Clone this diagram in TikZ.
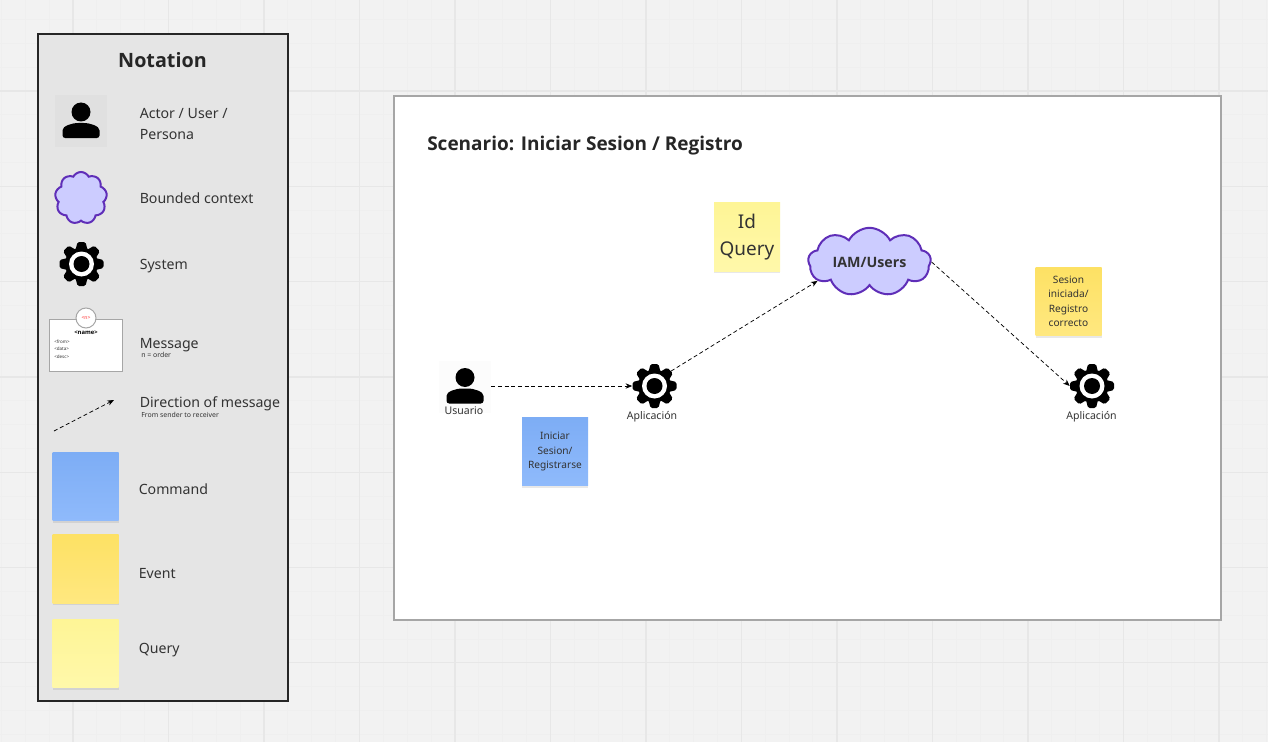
\documentclass[tikz,border=0pt]{standalone}
\usepackage{fontspec}
\setmainfont{Noto Sans}
\newfontfamily\headfont{Open Sans}
\usetikzlibrary{arrows.meta,shapes.symbols,shadows}
\definecolor{canvas}{HTML}{F2F2F2}
\definecolor{gridmajor}{HTML}{E7E7E7}
\definecolor{gridminor}{HTML}{EFEFEF}
\definecolor{panel}{HTML}{E5E5E5}
\definecolor{ink}{HTML}{333333}
\definecolor{purpleline}{HTML}{5F2EB8}
\definecolor{purplefill}{HTML}{CCCCFF}
\definecolor{cmdtop}{HTML}{7DADF5}
\definecolor{cmdbot}{HTML}{8FBAFB}
\definecolor{evttop}{HTML}{FDE164}
\definecolor{evtbot}{HTML}{FFE880}
\definecolor{qrytop}{HTML}{FEF596}
\definecolor{qrybot}{HTML}{FFF8AA}
\tikzset{
	legendtext/.style={anchor=west, inner sep=0pt, text=ink, font=\fontsize{10.6}{15.6}\selectfont, align=left},
	smalltext/.style={anchor=west, inner sep=0pt, text=ink, font=\fontsize{5.2}{6}\selectfont},
	icontext/.style={inner sep=0pt, text=ink, font=\fontsize{7.9}{9}\selectfont},
	sticky/.style={minimum width=49.5pt, minimum height=51.5pt, inner sep=0pt, align=center, text=ink,
		font=\fontsize{7.6}{10.9}\selectfont, drop shadow={opacity=.18, shadow xshift=0pt, shadow yshift=-1.5pt}},
	command/.style={sticky, top color=cmdtop, bottom color=cmdbot},
	event/.style={sticky, top color=evttop, bottom color=evtbot},
	query/.style={sticky, top color=qrytop, bottom color=qrybot},
	context/.style={cloud, cloud puffs=9, cloud puff arc=125, aspect=1.7, draw=purpleline, line width=1.5pt, fill=purplefill, inner sep=0pt, text=ink},
	gearnode/.style={circle, minimum size=33pt, inner sep=0pt},
	personnode/.style={minimum size=39pt, inner sep=0pt},
	flow/.style={-{Stealth[length=5pt,width=4pt]}, dash pattern=on 3pt off 2pt, line width=.55pt},
	pics/gearicon/.style={code={
		\fill[black] (0,0) circle (16.5);
		\foreach \a in {0,45,...,315}
			\fill[black, rotate=\a, rounded corners=1.2pt] (-6,-14) -- (-4,-22) -- (4,-22) -- (6,-14) -- cycle;
		\fill[#1] (0,0) circle (12.5);
		\fill[black] (0,0) circle (8);
	}},
	pics/personicon/.style={code={
		\fill[#1] (-26,-26) rectangle (26,26);
		\fill[black] (0,-9) circle (9.5);
		\fill[black, rounded corners=2pt] (-18.5,17) -- (-18.5,12) .. controls (-18.5,5) and (-9,2) .. (0,2) .. controls (9,2) and (18.5,5) .. (18.5,12) -- (18.5,17) -- cycle;
	}}
}

\begin{document}
\begin{tikzpicture}[x=.75pt, y=-.75pt]
\useasboundingbox (0,0) rectangle (1268,742);
\clip (0,0) rectangle (1268,742);
\fill[canvas] (0,0) rectangle (1268,742);
\foreach \i in {0,...,53}
	\draw[gridminor, line width=.75pt] (1.4+23.87*\i,0) -- (1.4+23.87*\i,742);
\foreach \i in {0,...,30}
	\draw[gridminor, line width=.75pt] (0,19.5+23.83*\i) -- (1268,19.5+23.83*\i);
\foreach \i in {0,...,12}
	\draw[gridmajor, line width=1pt] (73+95.5*\i,0) -- (73+95.5*\i,742);
\foreach \i in {0,...,6}
	\draw[gridmajor, line width=1pt] (0,91+95.3*\i) -- (1268,91+95.3*\i);

\draw[fill=panel, draw=black!85, line width=1.5pt] (37.5,34.5) rectangle (287.5,700.5);
\node[text=black!85, font=\fontsize{14.8}{18}\headfont\bfseries\selectfont] (notation) at (162.5,60.5) {Notation};

\pic at (81,121) {personicon=black!2!panel};
\node[personnode] (actorkey) at (81,121) {};
\node[legendtext] (actorlabel) at (139.5,124) {Actor / User /\\Persona};

\node[context, aspect=1, minimum width=39pt, minimum height=39pt] (contextkey) at (81,198) {};
\node[legendtext] (contextlabel) at (139.5,198.5) {Bounded context};

\pic at (81.5,264) {gearicon=white};
\node[gearnode] (systemkey) at (81.5,264) {};
\node[legendtext] (systemlabel) at (139.5,266.5) {System};

\node[draw=black!35, fill=white, line width=.75pt, minimum width=54.5pt, minimum height=39pt, inner sep=0pt] (messagekey) at (86,345.5) {};
\node[draw=black!35, fill=white, circle, line width=.75pt, minimum size=15pt, inner sep=0pt, text=red!80, font=\fontsize{3.8}{4}\selectfont] (ordermark) at (86,318) {<n>};
\node[inner sep=0pt, font=\fontsize{4.4}{5}\headfont\bfseries\selectfont] (messagename) at (86,333) {<name>};
\node[anchor=north west, inner sep=0pt, align=left, text=ink, font=\fontsize{3.4}{5.6}\selectfont] (messagebody) at (54,339.5) {<from>\\<data>\\<desc>};
\node[legendtext] (messagelabel) at (139.5,345) {Message};
\node[smalltext] (messagenote) at (141,354.5) {n = order};

\coordinate (dirstart) at (54,431);
\coordinate (dirend) at (114,400);
\path[flow] (dirstart) edge (dirend);
\node[legendtext] (directionlabel) at (139.5,403.5) {Direction of message};
\node[smalltext] (directionnote) at (141,415) {From sender to receiver};

\node[command] (commandkey) at (85.5,486.5) {};
\node[legendtext] (commandlabel) at (138.5,489) {Command};
\node[event] (eventkey) at (85.5,569) {};
\node[legendtext] (eventlabel) at (138.5,574) {Event};
\node[query] (querykey) at (85.5,653.5) {};
\node[legendtext] (querylabel) at (138.5,650) {Query};

\draw[fill=white, draw=black!35, line width=1.5pt] (394,96) rectangle (1221,620);
\node[anchor=west, inner sep=0pt, text=black!85, font=\fontsize{14.25}{18}\headfont\bfseries\selectfont] (scenario) at (427,146) {Scenario: Iniciar Sesion / Registro};

\pic at (465,386.5) {personicon=black!1!white};
\node[personnode] (usuario) at (465,386) {};
\node[icontext] (usuariolabel) at (464,411) {Usuario};

\pic at (654.5,386) {gearicon=white};
\node[gearnode] (appstart) at (654.5,386) {};
\node[icontext] (appstartlabel) at (652,416.5) {Aplicación};

\node[context, aspect=2.1, minimum width=92pt, minimum height=50pt, font=\fontsize{10.7}{12}\headfont\bfseries\selectfont] (iam) at (869.5,262) {IAM/Users};

\pic at (1092,386) {gearicon=white};
\node[gearnode] (append) at (1092,386) {};
\node[icontext] (appendlabel) at (1091.5,416.5) {Aplicación};

\node[command] (iniciar) at (555,451.5) {Iniciar\\Sesion/\\Registrarse};
\node[query, font=\fontsize{14.2}{20.3}\selectfont] (idquery) at (747,237) {Id\\Query};
\node[event] (sesion) at (1068.5,301.5) {Sesion\\iniciada/\\Registro\\correcto};

\path[flow]
(usuario) edge (appstart)
(appstart.42) edge (iam.200)
(iam.east) edge (append.west)
;
\end{tikzpicture}
\end{document}
